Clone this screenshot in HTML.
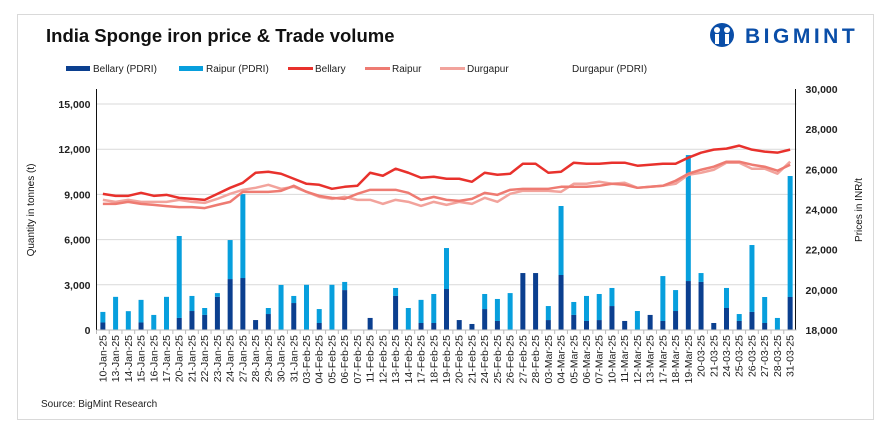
<!DOCTYPE html>
<html><head><meta charset="utf-8"><style>
body{margin:0;background:#fff;width:893px;height:437px;overflow:hidden;font-family:"Liberation Sans",sans-serif}
#card{position:absolute;left:17px;top:14px;width:857px;height:406px;border:1px solid #d9d9d9;box-sizing:border-box}
</style></head><body>
<div id="card"></div>
<svg id="chart" width="893" height="437" style="position:absolute;left:0;top:0">
<text x="46" y="42" font-size="18.5" font-weight="bold" fill="#111">India Sponge iron price &amp; Trade volume</text>
<g>
<circle cx="722" cy="35" r="12" fill="#0a4ea8"/>
<circle cx="717" cy="30" r="3" fill="#fff"/><circle cx="727" cy="30" r="3" fill="#fff"/>
<rect x="715" y="34" width="4" height="10" fill="#fff"/><rect x="725" y="34" width="4" height="10" fill="#fff"/>
<text x="745" y="43" font-size="21" font-weight="bold" fill="#0a4ea8" letter-spacing="3.5">BIGMINT</text>
</g>
<g id="legend" font-size="10" fill="#222"></g>
<g id="grid"></g><g id="bars"></g><g id="lines"></g><g id="axes" font-size="10.5"></g>
<text x="0" y="0" font-size="10" fill="#111" transform="translate(34,210) rotate(-90)" text-anchor="middle">Quantity in tonnes (t)</text>
<text x="0" y="0" font-size="10" fill="#111" transform="translate(862,210) rotate(-90)" text-anchor="middle">Prices in INR/t</text>
<text x="41" y="407" font-size="10" fill="#222">Source: BigMint Research</text>
</svg>
<script>
const categories=["10-Jan-25","13-Jan-25","14-Jan-25","15-Jan-25","16-Jan-25","17-Jan-25","20-Jan-25","21-Jan-25","22-Jan-25","23-Jan-25","24-Jan-25","27-Jan-25","28-Jan-25","29-Jan-25","30-Jan-25","31-Jan-25","03-Feb-25","04-Feb-25","05-Feb-25","06-Feb-25","07-Feb-25","11-Feb-25","12-Feb-25","13-Feb-25","14-Feb-25","17-Feb-25","18-Feb-25","19-Feb-25","20-Feb-25","21-Feb-25","24-Feb-25","25-Feb-25","26-Feb-25","27-Feb-25","28-Feb-25","03-Mar-25","04-Mar-25","05-Mar-25","06-Mar-25","07-Mar-25","10-Mar-25","11-Mar-25","12-Mar-25","13-Mar-25","17-Mar-25","18-Mar-25","19-Mar-25","20-03-25","21-03-25","24-03-25","25-03-25","26-03-25","27-03-25","28-03-25","31-03-25"];
const bellaryVol=[500,0,0,500,0,0,800,1260,1000,2200,3380,3450,660,1060,0,1790,0,465,0,2650,0,800,0,2260,0,465,465,2720,660,400,1390,600,0,3780,3780,660,3650,1000,600,660,1590,600,0,1000,600,1260,3250,3190,465,1460,600,1200,465,0,2190];
const raipurVol=[700,2200,1250,1500,1000,2200,5440,1000,460,250,2590,5570,0,400,2990,470,3000,925,3000,540,0,0,0,530,1460,1535,1925,2720,0,0,1000,1460,2450,0,0,930,4580,860,1660,1730,1200,0,1260,0,2980,1390,8360,590,0,1330,460,4440,1725,800,8030];
const bellaryPrice=[24780,24680,24680,24830,24680,24730,24580,24530,24480,24780,25080,25330,25830,25880,25780,25530,25280,25230,25030,25130,25180,25830,25680,26030,25830,25580,25630,25530,25530,25380,25830,25730,25780,26280,26280,25830,25880,26330,26280,26280,26330,26330,26180,26230,26280,26280,26580,26830,26980,27030,27180,26980,26880,26830,26980];
const raipurPrice=[24280,24280,24380,24280,24230,24170,24120,24120,24070,24230,24380,24880,24880,24880,24930,25180,24880,24680,24580,24530,24780,24980,24980,24980,24830,24480,24630,24480,24430,24530,24830,24730,24980,25030,25030,25030,25130,25130,25130,25180,25280,25230,25080,25130,25180,25430,25780,25980,26130,26380,26380,26230,26130,25930,26230];
const durgapurPrice=[24480,24380,24480,24380,24380,24380,24480,24380,24330,24530,24780,24980,25080,25230,25030,25130,24880,24630,24530,24630,24480,24480,24280,24480,24380,24180,24380,24230,24380,24280,24580,24380,24780,24930,24930,24930,24880,25280,25280,25380,25280,25330,25080,25130,25180,25280,25730,25830,25980,26330,26330,26030,26030,25780,26380];
const leftTicks=[0,3000,6000,9000,12000,15000];
const rightTicks=[18000,20000,22000,24000,26000,28000,30000];

const NS="http://www.w3.org/2000/svg";
const X0=96.5,W=700,YB=330;
const xPos=i=>X0+W*(i+0.5)/categories.length;
const yL=v=>YB-v*226/15000;
const yR=v=>YB-(v-18000)*241/12000;
function mk(tag,attrs,parent){const e=document.createElementNS(NS,tag);for(const k in attrs)e.setAttribute(k,attrs[k]);parent.appendChild(e);return e;}
const grid=document.getElementById('grid'),bars=document.getElementById('bars'),lines=document.getElementById('lines'),axes=document.getElementById('axes'),legend=document.getElementById('legend');

leftTicks.forEach(t=>{
  if(t>0){const g=mk('line',{x1:X0,x2:X0+W,y1:yL(t),y2:yL(t),stroke:'#d9d9d9','stroke-width':1},grid);
  
  }
  const tx=mk('text',{x:X0-6,y:yL(t)+4,'text-anchor':'end','font-weight':'bold',fill:'#222'},axes);tx.textContent=t.toLocaleString('en-US');
  
  
});
rightTicks.forEach(t=>{
  const tx=mk('text',{x:X0+W+9,y:yR(t)+4,'font-weight':'bold',fill:'#222'},axes);tx.textContent=t.toLocaleString('en-US');
  
  
});
const la=mk('line',{x1:X0,x2:X0,y1:89,y2:YB,stroke:'#111'},axes);


const ra=mk('line',{x1:X0+W-1,x2:X0+W-1,y1:89,y2:YB,stroke:'#111'},axes);


const xa=mk('line',{x1:X0,x2:X0+W,y1:YB,y2:YB,stroke:'#bbb'},axes);



categories.forEach((c,i)=>{
  const x=xPos(i),bw=5;
  const tk=mk('line',{x1:X0+W*i/categories.length,x2:X0+W*i/categories.length,y1:YB,y2:YB+4,stroke:'#bbb'},axes);
  
  
  if(bellaryVol[i]>0){const r=mk('rect',{x:x-bw/2,y:yL(bellaryVol[i]),width:bw,height:YB-yL(bellaryVol[i]),fill:'#0b3f8f'},bars);
    
    }
  if(raipurVol[i]>0){const top=yL(bellaryVol[i]+raipurVol[i]);const r=mk('rect',{x:x-bw/2,y:top,width:bw,height:yL(bellaryVol[i])-top,fill:'#079fdd'},bars);
    
    }
  const tx=mk('text',{x:0,y:0,'text-anchor':'end',fill:'#222',transform:`translate(${x+3.5},${YB+5}) rotate(-90)`},axes);tx.textContent=c;
  
  
});
function line(data,color,name){
  const p=mk('polyline',{points:data.map((v,i)=>xPos(i)+','+yR(v)).join(' '),fill:'none',stroke:color,'stroke-width':2.5,'stroke-linejoin':'round'},lines);
  
  
}
line(durgapurPrice,'#f2a39c','line-durgapur');
line(raipurPrice,'#ee7b72','line-raipur');
line(bellaryPrice,'#e8312c','line-bellary');

const leg=[["Bellary (PDRI)","#0b3f8f",66,"rect"],["Raipur (PDRI)","#079fdd",179,"rect"],["Bellary","#e8312c",288,"line"],["Raipur","#ee7b72",365,"line"],["Durgapur","#f2a39c",440,"line"],["Durgapur (PDRI)","none",545,"none"]];
leg.forEach(l=>{
  const g=mk('g',{},legend);
  
  
  if(l[3]=='rect')mk('rect',{x:l[2],y:66,width:24,height:5,fill:l[1]},g);
  else if(l[3]=='line')mk('rect',{x:l[2],y:67,width:25,height:3,fill:l[1]},g);
  const t=mk('text',{x:l[2]+27,y:72},g);t.textContent=l[0];
});
</script>
</body></html>
